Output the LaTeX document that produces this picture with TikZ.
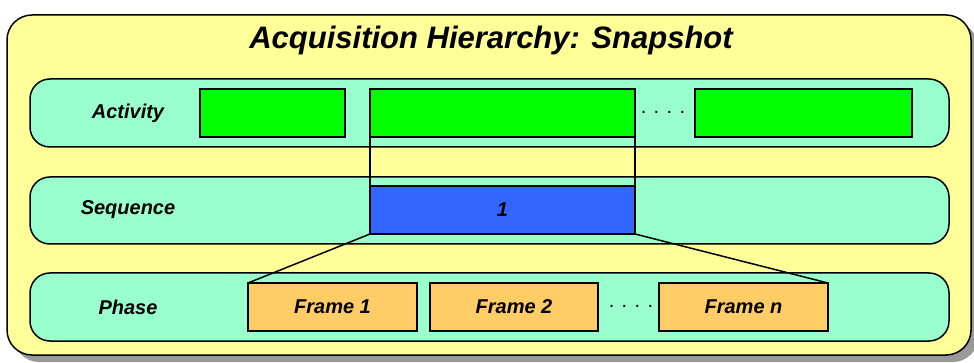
\documentclass[tikz,border=0pt]{standalone}
\usepackage{fontspec}
\setmainfont{Liberation Sans}
\usepackage{xcolor}
\usepackage{tikz}
\usetikzlibrary{positioning}

\definecolor{paleyellow}{HTML}{FFFF99}
\definecolor{aqua}{HTML}{99FFCC}
\definecolor{actgreen}{HTML}{00FF00}
\definecolor{seqblue}{HTML}{3366FF}
\definecolor{frameorange}{HTML}{FFCC66}
\definecolor{shadowgray}{HTML}{999999}

\begin{document}
\begin{tikzpicture}[x=1pt, y=-1pt, line width=1.5pt,
    band/.style={rectangle, draw, fill=aqua, rounded corners=20pt, minimum width=919pt, minimum height=68pt, inner sep=0pt},
    rowlabel/.style={font=\fontsize{20}{24}\selectfont\bfseries\itshape},
    box/.style={rectangle, draw, minimum height=48pt, inner sep=0pt, outer sep=0pt, font=\fontsize{20}{24}\selectfont\bfseries\itshape},
    dotsep/.style={font=\fontsize{20}{24}\selectfont, inner sep=0pt}]
    \useasboundingbox (0,0) rectangle (974,363);

    % frame with shadow
    \fill [shadowgray, rounded corners=25pt] (14,22) rectangle (978,362);
    \draw [fill=paleyellow, rounded corners=25pt] (7,15) rectangle (971,355);
    \node (title) at (491,40) [font=\fontsize{31}{36}\selectfont\bfseries\itshape] {Acquisition Hierarchy: Snapshot};

    % the three rows
    \node (actband) at (489.5,113) [band] {};
    \node (seqband) at (489.5,210.5) [band, minimum height=67pt] {};
    \node (phaseband) at (489.5,307) [band] {};
    \node (actlabel) at (128,113) [rowlabel] {Activity};
    \node (seqlabel) at (128,210) [rowlabel] {Sequence};
    \node (phaselabel) at (128,307) [rowlabel] {Phase};

    % activities
    \node (act1) at (272.5,113) [box, fill=actgreen, minimum width=145pt] {};
    \node (act2) [box, fill=actgreen, minimum width=265pt, right=25pt of act1] {};
    \node (act3) [box, fill=actgreen, minimum width=217pt, right=60pt of act2] {};
    \node (actdots) at (663,112) [dotsep] {. . . .};

    % sequence
    \node (seq1) [box, fill=seqblue, minimum width=265pt, below=49pt of act2] {1};

    % frames
    \node (frame1) at (332.5,307) [box, fill=frameorange, minimum width=169pt] {Frame 1};
    \node (frame2) [box, fill=frameorange, minimum width=168pt, right=13pt of frame1] {Frame 2};
    \node (framen) [box, fill=frameorange, minimum width=169pt, right=61pt of frame2] {Frame n};
    \node (phasedots) at (631,306) [dotsep] {. . . .};

    \draw (act2.south west) -- (seq1.north west);
    \draw (act2.south east) -- (seq1.north east);
    \draw (seq1.south west) -- (frame1.north west);
    \draw (seq1.south east) -- (framen.north east);
\end{tikzpicture}
\end{document}
